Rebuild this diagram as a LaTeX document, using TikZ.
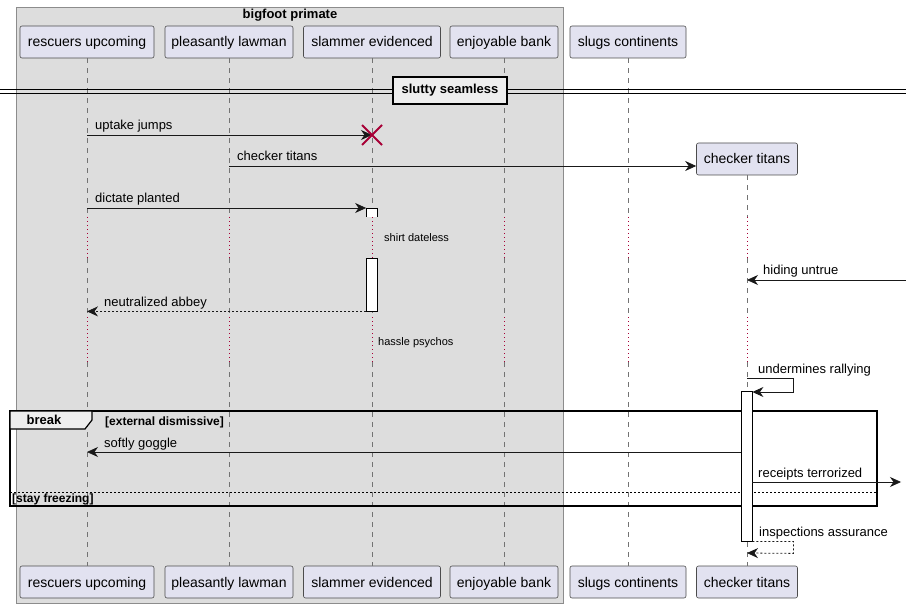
\documentclass[tikz,border=0pt]{standalone}
\usepackage{fontspec}
\setmainfont{Liberation Sans}
\usetikzlibrary{arrows.meta,positioning}
\definecolor{partfill}{HTML}{E2E2F0}
\definecolor{grpfill}{HTML}{DDDDDD}
\definecolor{tabfill}{HTML}{EEEEEE}
\definecolor{killred}{HTML}{A80036}
\tikzset{
  part/.style={draw=black!70,line width=0.6pt,fill=partfill,rounded corners=2pt,minimum height=32pt,inner sep=0pt,text height=12pt,text depth=2pt,font=\fontsize{14}{16}\selectfont},
  life/.style={draw=black!55,line width=0.6pt,dash pattern=on 5pt off 5pt},
  pause/.style={draw=killred,line width=0.8pt,dash pattern=on 1pt off 3pt},
  msg/.style={draw=black!90,line width=0.8pt,-{Stealth[length=11pt,width=10pt,inset=3.5pt]}},
  reply/.style={msg,dash pattern=on 2pt off 2pt},
  lbl/.style={anchor=base west,inner sep=0pt,font=\fontsize{13}{15}\selectfont},
  note/.style={anchor=base west,inner sep=0pt,font=\fontsize{11}{13}\selectfont},
  bar/.style={draw=black,line width=0.8pt,fill=white,minimum width=11pt,inner sep=0pt},
  headbold/.style={inner sep=0pt,font=\bfseries\fontsize{13}{15}\selectfont},
  guard/.style={anchor=base west,inner sep=0pt,font=\bfseries\fontsize{12}{14}\selectfont},
}
\begin{document}
\begin{tikzpicture}[x=1pt,y=-1pt]
\useasboundingbox (0,0) rectangle (906,607);
% box round the first four
\draw[draw=black!45,fill=grpfill] (16,7) rectangle (563,603);
\node[headbold] (grp) at (290,15) {bigfoot primate};
% participants, head and foot
\foreach \n/\x/\w/\t in {ru/87/134/rescuers upcoming, pl/229/128/pleasantly lawman,
  se/372/137/slammer evidenced, eb/504/108/enjoyable bank, sc/628/116/slugs continents}{
  \node[part,minimum width=\w pt] (\n) at (\x,42) {\t};
  \node[part,minimum width=\w pt] (\n-b) at (\x,582) {\t};
}
\node[part,minimum width=101pt] (ct) at (747,159) {checker titans};
\node[part,minimum width=101pt] (ct-b) at (747,582) {checker titans};
% lifelines with the two pauses
\foreach \n in {ru,pl,se,eb,sc,ct}{
  \draw[life] (\n.south) -- (\n |- 0,217);
  \draw[pause] (\n |- 0,217) -- (\n |- 0,258);
  \draw[life] (\n |- 0,258) -- (\n |- 0,317);
  \draw[pause] (\n |- 0,317) -- (\n |- 0,362);
  \draw[life] (\n |- 0,362) -- (\n-b.north);
}
% divider
\draw[line width=0.8pt] (0,89) -- (906,89) (0,93) -- (906,93);
\node[headbold,draw=black,line width=1.6pt,fill=tabfill,minimum width=114pt,minimum height=27pt] (div) at (450,90.5) {slutty seamless};
% activations
\draw[bar] (366.5,217) -- (366.5,208) -- (377.5,208) -- (377.5,217);
\node[bar,minimum height=53pt] (sebar) at (372,284.5) {};
% messages
\draw[msg] (ru |- 0,135) -- (se |- 0,135) coordinate (kill);
\draw[killred,line width=1.8pt] ([shift={(-10,-10)}]kill) -- ([shift={(10,10)}]kill)
  ([shift={(-10,10)}]kill) -- ([shift={(10,-10)}]kill);
\node[lbl] (m1) at (95,130) {uptake jumps};
\draw[msg] (pl |- 0,166) -- ([yshift=-7pt]ct.west);
\node[lbl] (m2) at (237,161) {checker titans};
\draw[msg] (ru |- 0,208) -- (sebar.west |- 0,208);
\node[lbl] (m3) at (95,203) {dictate planted};
\node[note] (p1) at (384,242) {shirt dateless};
\coordinate (inR) at (906,280);
\draw[msg] (inR) -- (ct |- inR);
\node[lbl] (m4) at (763,275) {hiding untrue};
\draw[reply] (sebar.south west) -- (ru |- sebar.south);
\node[lbl] (m5) at (104,306) {neutralized abbey};
\node[note] (p2) at (378,345) {hassle psychos};
% break frame
\draw[line width=1.5pt] (10,411) rectangle (877,506);
\draw[line width=1.2pt,fill=tabfill] (10,411) -- (92,411) -- (92,420) -- (85,429) -- (10,429) -- cycle;
\node[headbold] (brk) at (44,420) {break};
\node[guard] (g1) at (105,425) {[external dismissive]};
\draw[line width=0.8pt,dash pattern=on 2pt off 2pt] (10,492) -- (877,492);
\node[guard] (g2) at (12,502) {[stay freezing]};
\node[bar,minimum height=150pt] (ctbar) at (746.5,466) {};
\draw[msg] (ct |- 0,378) -- (793,378) -- (793,392) -- (ctbar.east |- 0,392);
\node[lbl] (m6) at (758,373) {undermines rallying};
\draw[msg] (ctbar.west |- 0,452) -- (ru |- 0,452);
\node[lbl] (m7) at (104,447) {softly goggle};
\coordinate (outR) at (901,482);
\draw[msg] (ctbar.east |- outR) -- (outR);
\node[lbl] (m8) at (758,477) {receipts terrorized};
\draw[reply] (ctbar.south east) -- ++(41,0) -- ++(0,12) -- (ct |- 0,553);
\node[lbl] (m9) at (759,536) {inspections assurance};
\end{tikzpicture}
\end{document}
